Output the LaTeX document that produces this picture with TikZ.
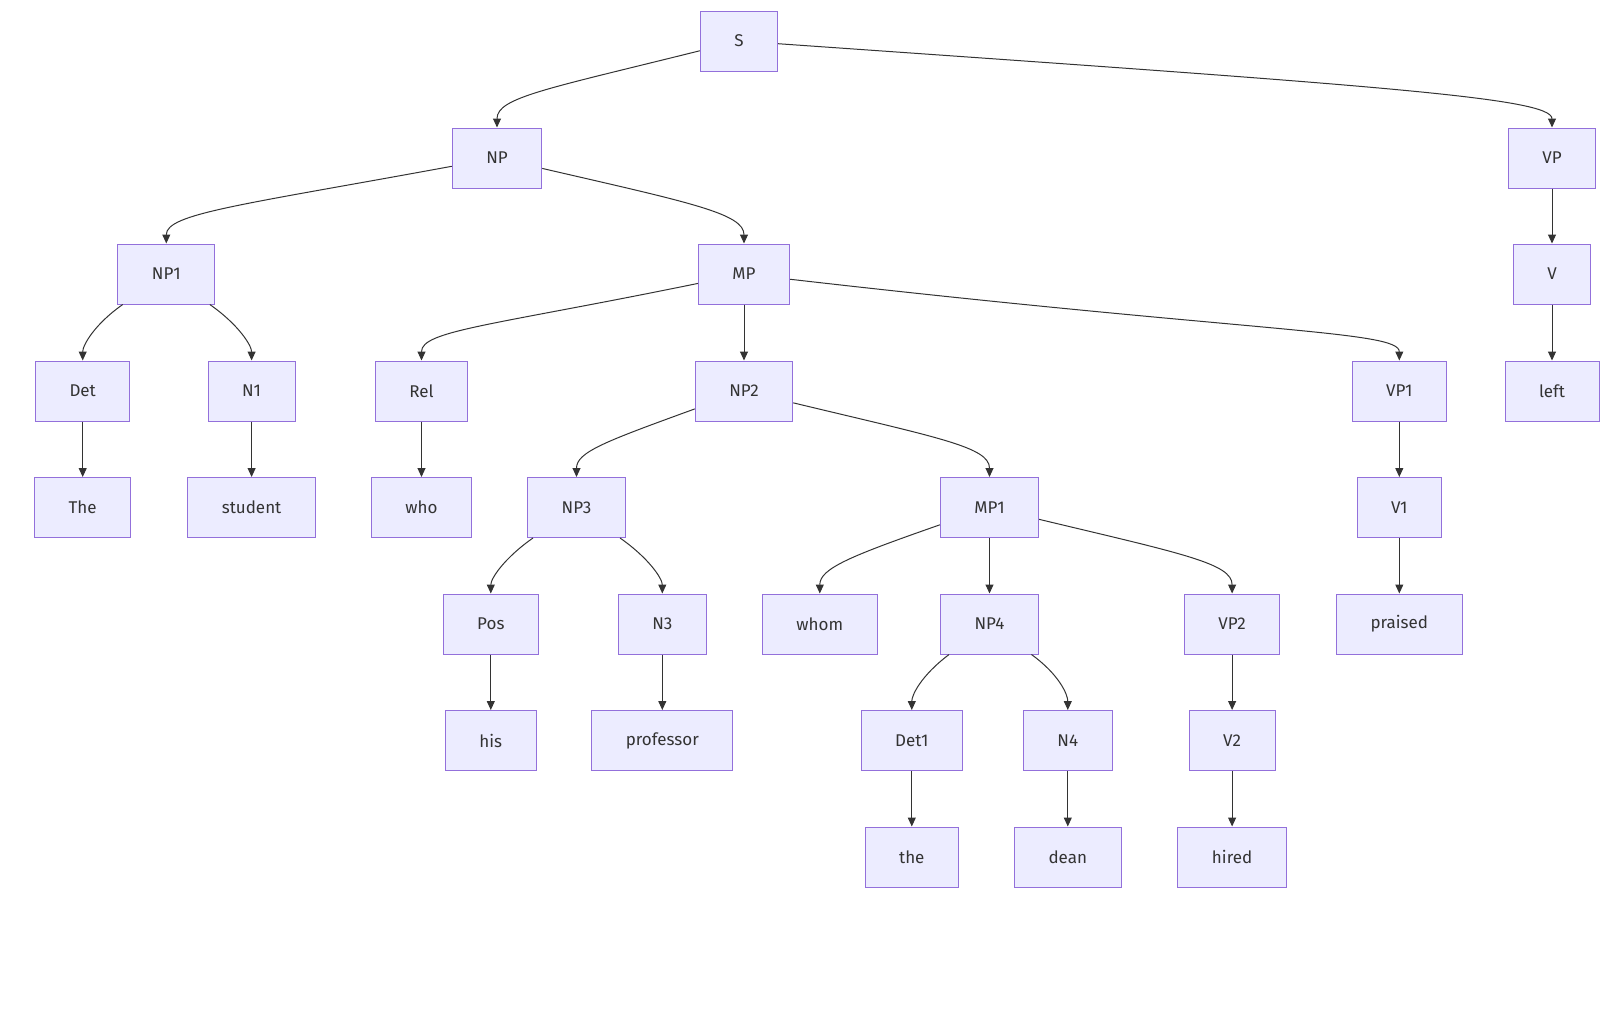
\documentclass[tikz,border=0pt]{standalone}
\usepackage{fontspec}
\setmainfont{Fira Sans}
\usetikzlibrary{arrows.meta}
\tikzset{>={Triangle[width=8pt,length=9pt]}}
\definecolor{boxfill}{HTML}{ECECFF}
\definecolor{boxline}{HTML}{9370DB}
\definecolor{edgegray}{HTML}{333333}
\tikzset{
  box/.style={draw=boxline, fill=boxfill, line width=1pt, minimum height=60pt,
    inner xsep=34pt, text=edgegray, font=\fontsize{17}{20}\selectfont},
  edge/.style={->, draw=edgegray, line width=1pt},
}

\begin{document}
\begin{tikzpicture}[x=1pt,y=-1pt]
  \useasboundingbox (0,0) rectangle (1620,1015);

  % nodes, row by row
  \node[box] (S) at (739,41) {S};

  \node[box] (NP) at (497,158) {NP};
  \node[box] (VP) at (1552,158) {VP};

  \node[box] (NP1) at (166.3,274) {NP1};
  \node[box] (MP) at (744,274) {MP};
  \node[box] (V) at (1552,274) {V};

  \node[box] (Det) at (82.7,391) {Det};
  \node[box] (N1) at (251.6,391) {N1};
  \node[box] (Rel) at (421.5,391) {Rel};
  \node[box] (NP2) at (744,391) {NP2};
  \node[box] (VP1) at (1399.3,391) {VP1};
  \node[box] (left) at (1552,391) {left};

  \node[box] (The) at (82.7,507.5) {The};
  \node[box] (student) at (251.6,507.5) {student};
  \node[box] (who) at (421.5,507.5) {who};
  \node[box] (NP3) at (576.5,507.5) {NP3};
  \node[box] (MP1) at (989.5,507.5) {MP1};
  \node[box] (V1) at (1399.3,507.5) {V1};

  \node[box] (Pos) at (490.8,624) {Pos};
  \node[box] (N3) at (662.3,624) {N3};
  \node[box] (whom) at (819.8,624) {whom};
  \node[box] (NP4) at (989.5,624) {NP4};
  \node[box] (VP2) at (1232.1,624) {VP2};
  \node[box] (praised) at (1399.3,624) {praised};

  \node[box] (his) at (490.8,740.5) {his};
  \node[box] (professor) at (662.3,740.5) {professor};
  \node[box] (Det1) at (911.8,740.5) {Det1};
  \node[box] (N4) at (1067.8,740.5) {N4};
  \node[box] (V2) at (1232.1,740.5) {V2};

  \node[box] (the) at (911.8,857) {the};
  \node[box] (dean) at (1067.8,857) {dean};
  \node[box] (hired) at (1232.1,857) {hired};

  % curved edges
  \draw[edge] (S) to[out=194,in=90,out distance=158pt,in distance=30pt] (NP);
  \draw[edge] (S) to[out=-4,in=90,out distance=600pt,in distance=30pt] (VP);
  \draw[edge] (NP) to[out=190.5,in=90,out distance=215pt,in distance=30pt] (NP1);
  \draw[edge] (NP) to[out=-13,in=90,out distance=152pt,in distance=30pt] (MP);
  \draw[edge] (NP1) to[out=215,in=90,out distance=35pt,in distance=15pt] (Det);
  \draw[edge] (NP1) to[out=-35,in=90,out distance=35pt,in distance=15pt] (N1);
  \draw[edge] (MP) to[out=191.7,in=90,out distance=210pt,in distance=30pt] (Rel);
  \draw[edge] (MP) to[out=-6.6,in=90,out distance=470pt,in distance=30pt] (VP1);
  \draw[edge] (NP2) to[out=200,in=90,out distance=95pt,in distance=25pt] (NP3);
  \draw[edge] (NP2) to[out=-13.7,in=90,out distance=150pt,in distance=30pt] (MP1);
  \draw[edge] (NP3) to[out=215,in=90,out distance=35pt,in distance=15pt] (Pos);
  \draw[edge] (NP3) to[out=-35,in=90,out distance=35pt,in distance=15pt] (N3);
  \draw[edge] (MP1) to[out=199.4,in=90,out distance=95pt,in distance=25pt] (whom);
  \draw[edge] (MP1) to[out=-13.6,in=90,out distance=148pt,in distance=30pt] (VP2);
  \draw[edge] (NP4) to[out=217,in=90,out distance=35pt,in distance=15pt] (Det1);
  \draw[edge] (NP4) to[out=-36,in=90,out distance=35pt,in distance=15pt] (N4);

  % straight edges
  \draw[edge] (MP) -- (NP2);
  \draw[edge] (VP) -- (V);
  \draw[edge] (V) -- (left);
  \draw[edge] (Det) -- (The);
  \draw[edge] (N1) -- (student);
  \draw[edge] (Rel) -- (who);
  \draw[edge] (VP1) -- (V1);
  \draw[edge] (V1) -- (praised);
  \draw[edge] (Pos) -- (his);
  \draw[edge] (N3) -- (professor);
  \draw[edge] (MP1) -- (NP4);
  \draw[edge] (VP2) -- (V2);
  \draw[edge] (Det1) -- (the);
  \draw[edge] (N4) -- (dean);
  \draw[edge] (V2) -- (hired);
\end{tikzpicture}
\end{document}
